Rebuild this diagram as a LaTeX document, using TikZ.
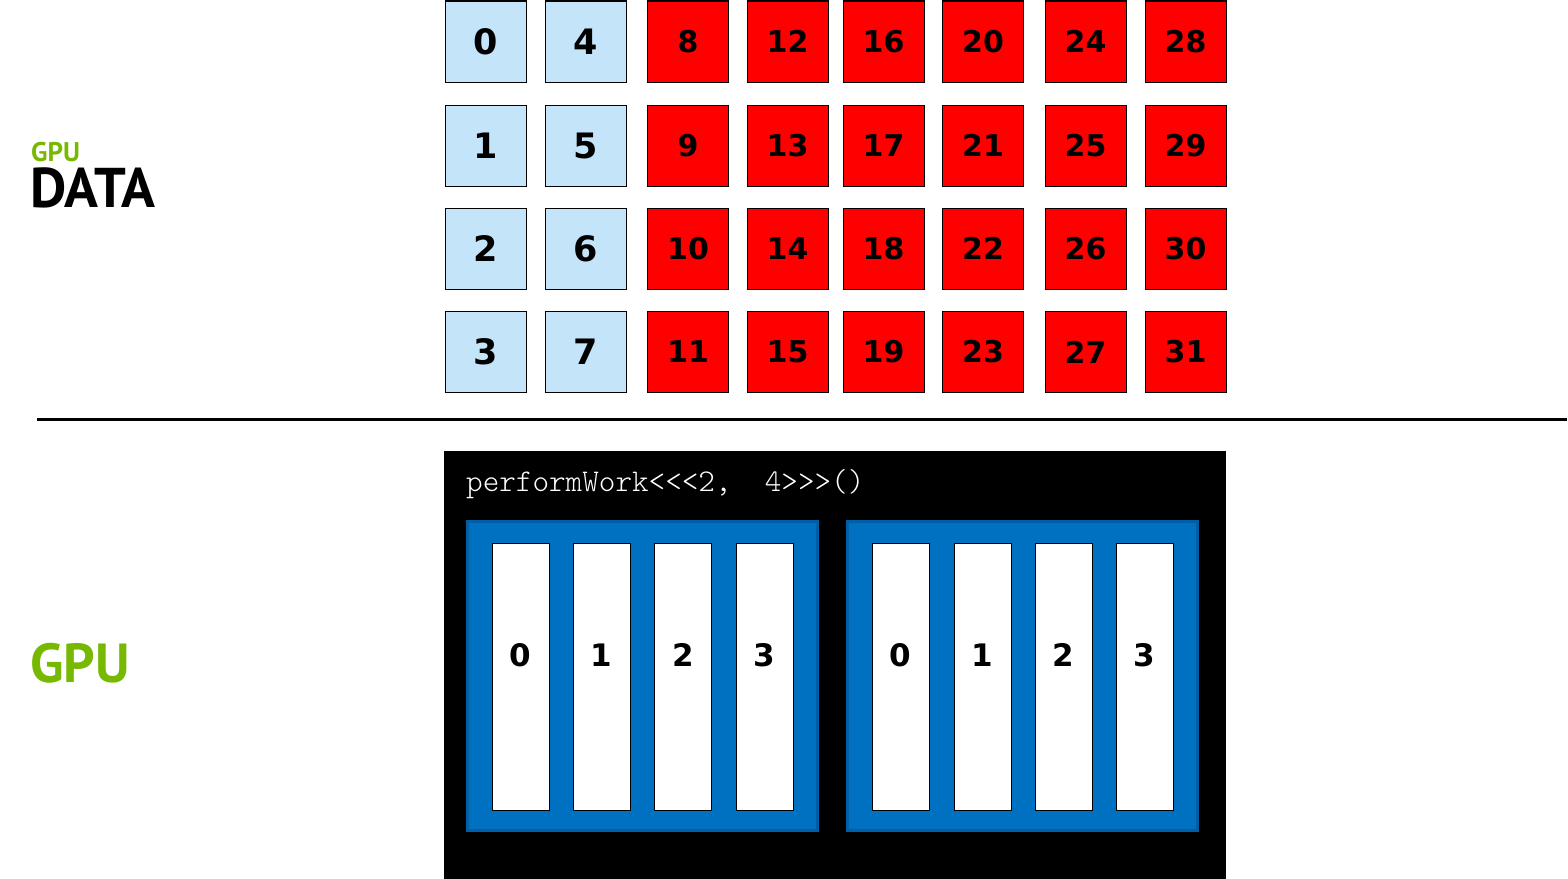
\documentclass[tikz,border=0pt]{standalone}
\usepackage{xcolor}
\usepackage{fontspec}
\setmainfont{PT Sans}
\newfontfamily\numfont{DejaVu Sans}
\newfontfamily\codefont{Latin Modern Mono Light}
\usepackage{tikz}
\usetikzlibrary{positioning,calc}

\definecolor{nvgreen}{HTML}{76B900}
\definecolor{cellblue}{RGB}{196,228,250}
\definecolor{blockblue}{HTML}{0070C0}
\definecolor{blockedge}{HTML}{005EA6}

\begin{document}
\begin{tikzpicture}[x=1pt, y=-1pt,
    cell/.style={draw, line width=1, minimum width=81, minimum height=81, inner sep=0,
        font=\numfont\bfseries\fontsize{30}{30}\selectfont},
    done/.style={cell, fill=cellblue, font=\numfont\bfseries\fontsize{35}{35}\selectfont},
    todo/.style={cell, fill=red},
    block/.style={draw=blockedge, fill=blockblue, line width=3, minimum width=350, minimum height=309, inner sep=0},
    thread/.style={draw, fill=white, line width=1, minimum width=57, minimum height=267, inner sep=0},
    tnum/.style={inner sep=0, font=\numfont\bfseries\fontsize{31}{31}\selectfont},
    title/.style={anchor=base west, inner sep=0, font=\bfseries}
]
\useasboundingbox (0,0) rectangle (1568,878);

% Titres
\node[title, text=nvgreen, font=\bfseries\fontsize{27}{27}\selectfont] (gpusmall) at (31,161) {GPU};
\node[title, font=\bfseries\fontsize{56}{56}\selectfont] (data) at (30,207) {DATA};
\node[title, text=nvgreen, font=\bfseries\fontsize{55}{55}\selectfont] (gpu) at (30,682) {GPU};

% Donnees
\foreach \c/\x in {0/485.5, 1/585.5, 2/688, 3/787.5, 4/883.5, 5/983, 6/1085.5, 7/1185.5} {
  \foreach \r/\y in {0/41.5, 1/145.5, 2/248.5, 3/352} {
    \pgfmathtruncatemacro{\idx}{4*\c+\r}
    \ifnum\c<2
      \node[done] (cell\idx) at (\x,\y) {\idx};
    \else
      \node[todo] (cell\idx) at (\x,\y) {\idx};
    \fi
  }
}

% Separation
\coordinate (sepL) at (37,419.5);
\coordinate (sepR) at (1567,419.5);
\draw[line width=3] (sepL) -- (sepR);

% Noyau
\node[fill=black, inner sep=0, minimum width=782, minimum height=428, anchor=north west] (kernel) at (444,451) {};
\node[anchor=base west, inner sep=0, text=white, font=\codefont\fontsize{31.6}{31.6}\selectfont] (call) at (466,491) {performWork<<<2,~~4>>>()};

% Blocs
\node[block] (block0) at (642,675.5) {};
\node[block] (block1) at (1022,675.5) {};

% Threads du bloc 0
\node[thread] (t00) at (520.5,676.5) {};
\node[thread] (t01) at (601.5,676.5) {};
\node[thread] (t02) at (683,676.5) {};
\node[thread] (t03) at (764.5,676.5) {};
\node[tnum] (n00) at (520.5,655) {0};
\node[tnum] (n01) at (601.5,655) {1};
\node[tnum] (n02) at (683,655) {2};
\node[tnum] (n03) at (764.5,655) {3};

% Threads du bloc 1
\node[thread] (t10) at (900.5,676.5) {};
\node[thread] (t11) at (982.5,676.5) {};
\node[thread] (t12) at (1063.5,676.5) {};
\node[thread] (t13) at (1144.5,676.5) {};
\node[tnum] (n10) at (900.5,655) {0};
\node[tnum] (n11) at (982.5,655) {1};
\node[tnum] (n12) at (1063.5,655) {2};
\node[tnum] (n13) at (1144.5,655) {3};
\end{tikzpicture}
\end{document}
